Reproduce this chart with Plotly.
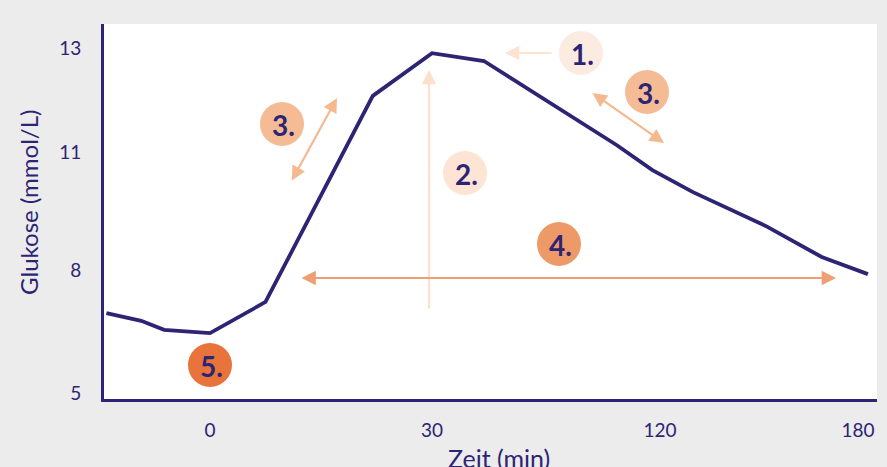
import numpy as np
import plotly.graph_objects as go

# ---- data ----
time_min = [-14, -9.3, -6.2, 0, 7.5, 22, 30, 50.5, 103, 117, 130, 152, 169, 183]
glucose = [6.95, 6.76, 6.54, 6.46, 7.22, 12.08, 12.9, 12.75, 11.13, 10.54, 9.98, 9.12, 8.33, 7.9]

x_tick_values = [0, 30, 120, 180]
x_tick_labels = ["0", "30", "120", "180"]
y_tick_values = [5, 8, 11, 13]
y_tick_labels = ["5", "8", "11", "13"]

# ---- schematic (non-linear) axis scales: value -> axis position ----
x_tick_pos = [210, 432, 660, 858]
y_tick_pos = [393, 270, 152, 48]


def piecewise(v, vals, pos):
    v = np.asarray(v, dtype=float)
    out = np.interp(v, vals, pos)
    lo = v < vals[0]
    out[lo] = pos[0] + (v[lo] - vals[0]) * (pos[1] - pos[0]) / (vals[1] - vals[0])
    hi = v > vals[-1]
    out[hi] = pos[-1] + (v[hi] - vals[-1]) * (pos[-1] - pos[-2]) / (vals[-1] - vals[-2])
    return out


xs = piecewise(time_min, x_tick_values, x_tick_pos)
ys = piecewise(glucose, y_tick_values, y_tick_pos)

NAVY = "#2d2474"
fig = go.Figure()
fig.add_trace(go.Scatter(x=xs, y=ys, mode="lines",
                         line=dict(color=NAVY, width=3.8), hoverinfo="skip"))

# circles with labels
circles = [
    ("1.", 581, 53, "#fcebe0"),
    ("3.", 282, 124, "#f4bb94"),
    ("3.", 647, 92, "#f4bb94"),
    ("2.", 465, 173, "#fde4d4"),
    ("4.", 559, 244, "#ee9a68"),
    ("5.", 210, 365, "#e8743b"),
]
R = 22
shapes = []
annotations = []
for txt, cx, cy, col in circles:
    shapes.append(dict(type="circle", xref="x", yref="y", x0=cx - R, x1=cx + R,
                       y0=cy - R, y1=cy + R, fillcolor=col, line=dict(width=0),
                       layer="above"))
    annotations.append(dict(x=cx + 1, y=cy + 1, xref="x", yref="y", text="<b>" + txt + "</b>",
                            showarrow=False, font=dict(family="Lato", size=28, color=NAVY)))

# arrows: (tail_x, tail_y, head_x, head_y, color, both)
arrows = [
    (553, 53, 505, 53, "#fde3d2", False),
    (429, 310, 429, 70, "#fde0cc", False),
    (291, 182, 337, 98, "#f4b98f", True),
    (591, 92, 664, 143, "#f4b98f", True),
    (300, 278, 836, 278, "#ee9f73", True),
]
for tx, ty, hx, hy, col, both in arrows:
    annotations.append(dict(x=hx, y=hy, ax=tx, ay=ty, xref="x", yref="y", axref="x", ayref="y",
                            text="", showarrow=True, arrowhead=2, arrowsize=1.3, arrowwidth=2.2,
                            arrowcolor=col, arrowside="end+start" if both else "end",
                            startarrowhead=2, startarrowsize=1.3, standoff=0, startstandoff=0))

# axis titles
annotations.append(dict(text="Zeit (min)", xref="paper", yref="paper", x=0.511, y=-0.112,
                        xanchor="center", yanchor="top", showarrow=False,
                        font=dict(family="Lato", size=25, color=NAVY)))
annotations.append(dict(text="Glukose (mmol/L)", xref="paper", yref="paper", x=-0.097, y=0.523,
                        xanchor="center", yanchor="middle", textangle=-90, showarrow=False,
                        font=dict(family="Lato", size=24, color=NAVY)))

fig.update_layout(
    width=887, height=467,
    margin=dict(l=104, r=10, t=24, b=68),
    paper_bgcolor="#ececec", plot_bgcolor="white",
    showlegend=False,
    shapes=shapes, annotations=annotations,
    font=dict(family="Lato", color=NAVY),
    xaxis=dict(range=[104, 877], showgrid=False, zeroline=False, automargin=False,
               tickvals=x_tick_pos, ticktext=x_tick_labels,
               tickfont=dict(size=19, color=NAVY), ticks="", ticklabelstandoff=12,
               showline=True, linecolor=NAVY, linewidth=3),
    yaxis=dict(range=[399, 24], showgrid=False, zeroline=False, automargin=False,
               tickvals=y_tick_pos, ticktext=y_tick_labels,
               tickfont=dict(size=19, color=NAVY), ticks="", ticklabelstandoff=16,
               showline=True, linecolor=NAVY, linewidth=3),
)

fig.write_html("out.html", config={"displayModeBar": False},
               post_script="document.body.style.margin='0';")
